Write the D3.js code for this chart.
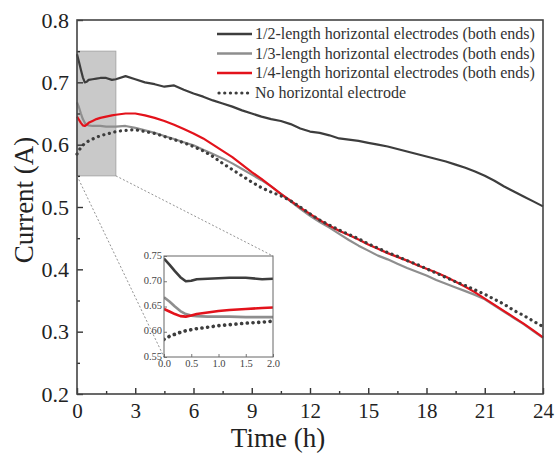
<!DOCTYPE html>
<html>
<head>
<meta charset="utf-8">
<script src="https://cdn.jsdelivr.net/npm/d3@7"></script>
<style>
    body { margin: 0; background: #fff; }
    svg, svg text { font-family: "Liberation Serif", "Times New Roman", Times, serif !important; }
</style>
</head>
<body>
<div id="chart"></div>
<script>
var times = [0, 0.1, 0.2, 0.3, 0.4, 0.5, 0.6, 0.8, 1.0, 1.2, 1.5, 1.8, 2.0,
    2.5, 3, 3.5, 4, 4.5, 5, 5.5, 6, 6.5, 7, 7.5, 8, 8.5, 9, 9.5, 10, 10.5, 11, 11.5,
    12, 12.5, 13, 13.5, 14, 14.5, 15, 15.5, 16, 16.5, 17, 17.5, 18, 18.5, 19, 19.5,
    20, 20.5, 21, 21.5, 22, 22.5, 23, 23.5, 24];

var halfLength = [0.745, 0.733, 0.720, 0.708, 0.700, 0.701, 0.704, 0.705, 0.706, 0.707, 0.707, 0.704, 0.705,
    0.710, 0.705, 0.700, 0.697, 0.693, 0.695, 0.688, 0.682, 0.677, 0.671, 0.666, 0.661, 0.655, 0.650, 0.645,
    0.641, 0.638, 0.633, 0.626, 0.621, 0.619, 0.615, 0.610, 0.608, 0.606, 0.603, 0.600, 0.597, 0.593, 0.589,
    0.585, 0.581, 0.577, 0.573, 0.568, 0.563, 0.557, 0.550, 0.542, 0.533, 0.525, 0.517, 0.509, 0.501];

var thirdLength = [0.668, 0.660, 0.650, 0.641, 0.635, 0.632, 0.631, 0.630, 0.630, 0.630, 0.629, 0.629, 0.629,
    0.630, 0.627, 0.623, 0.619, 0.614, 0.609, 0.604, 0.599, 0.592, 0.585, 0.578, 0.570, 0.561, 0.552, 0.543,
    0.533, 0.521, 0.509, 0.497, 0.486, 0.476, 0.467, 0.457, 0.447, 0.438, 0.430, 0.422, 0.416, 0.409, 0.402,
    0.396, 0.390, 0.383, 0.377, 0.371, 0.365, 0.359, 0.352, 0.342, 0.332, 0.322, 0.312, 0.301, 0.290];

var quarterLength = [0.645, 0.640, 0.635, 0.631, 0.630, 0.632, 0.635, 0.638, 0.641, 0.643, 0.645, 0.647, 0.648,
    0.650, 0.650, 0.647, 0.643, 0.638, 0.632, 0.625, 0.618, 0.610, 0.600, 0.590, 0.580, 0.568, 0.556, 0.545,
    0.533, 0.521, 0.510, 0.499, 0.489, 0.479, 0.470, 0.462, 0.455, 0.448, 0.440, 0.433, 0.426, 0.420, 0.414,
    0.407, 0.401, 0.395, 0.388, 0.380, 0.372, 0.363, 0.353, 0.343, 0.333, 0.323, 0.313, 0.302, 0.291];

var noElectrode = [0.585, 0.591, 0.595, 0.599, 0.602, 0.604, 0.606, 0.609, 0.612, 0.614, 0.617, 0.619, 0.621,
    0.623, 0.624, 0.621, 0.618, 0.613, 0.608, 0.603, 0.597, 0.590, 0.581, 0.570, 0.560, 0.550, 0.540, 0.531,
    0.524, 0.518, 0.510, 0.500, 0.489, 0.479, 0.471, 0.463, 0.456, 0.449, 0.441, 0.434, 0.427, 0.421, 0.414,
    0.408, 0.401, 0.394, 0.387, 0.380, 0.374, 0.367, 0.360, 0.352, 0.344, 0.334, 0.326, 0.317, 0.308];

var seriesNames = ["1/2-length horizontal electrodes (both ends)",
    "1/3-length horizontal electrodes (both ends)",
    "1/4-length horizontal electrodes (both ends)",
    "No horizontal electrode"];

var xTicks = [0, 3, 6, 9, 12, 15, 18, 21, 24];
var yTicks = [0.2, 0.3, 0.4, 0.5, 0.6, 0.7, 0.8];
var insetXTicks = [0, 0.5, 1.0, 1.5, 2.0];
var insetYTicks = [0.55, 0.60, 0.65, 0.70, 0.75];
var zoomBox = {x0: 0, x1: 2, y0: 0.55, y1: 0.75};

function CurrentChart(){
    var self = this;
    self.svgWidth = 555;
    self.svgHeight = 457;
    self.margin = {left: 77, right: 12, top: 20, bottom: 63};
    self.font = "'Liberation Serif', 'Times New Roman', serif";
    self.series = [
        {name: seriesNames[0], values: halfLength, color: "#3d3d3d", dotted: false},
        {name: seriesNames[1], values: thirdLength, color: "#8e8e8e", dotted: false},
        {name: seriesNames[2], values: quarterLength, color: "#e3121b", dotted: false},
        {name: seriesNames[3], values: noElectrode, color: "#3d3d3d", dotted: true}
    ];
    self.init();
}

CurrentChart.prototype.init = function(){
    var self = this;

    //creates svg element within the div
    self.svg = d3.select("#chart").append("svg")
        .attr("width", self.svgWidth)
        .attr("height", self.svgHeight)
        .style("font-family", self.font);

    var w = self.svgWidth - self.margin.left - self.margin.right;
    var h = self.svgHeight - self.margin.top - self.margin.bottom;

    self.xScale = d3.scaleLinear().domain([0, 24]).range([self.margin.left, self.margin.left + w]);
    self.yScale = d3.scaleLinear().domain([0.2, 0.8]).range([self.margin.top + h, self.margin.top]);

    var x = self.xScale, y = self.yScale;

    // grey highlight of the zoomed region
    self.svg.append("rect")
        .attr("x", x(zoomBox.x0))
        .attr("y", y(zoomBox.y1))
        .attr("width", x(zoomBox.x1) - x(zoomBox.x0))
        .attr("height", y(zoomBox.y0) - y(zoomBox.y1))
        .style("fill", "#c9c9c9")
        .style("stroke", "#a8a8a8")
        .style("stroke-width", 1);

    self.drawLines(self.svg, x, y, 2.2, times.length);

    // axes, ticks pointing inward
    var xAxis = d3.axisBottom(x).tickValues(xTicks).tickSize(-6).tickPadding(9).tickFormat(d3.format("d"));
    var xMinor = d3.axisBottom(x).tickValues(d3.range(1.5, 24, 3)).tickSize(-3).tickFormat("");
    var yAxis = d3.axisLeft(y).tickValues(yTicks).tickSize(-6).tickPadding(8).tickFormat(d3.format(".1f"));
    var yMinor = d3.axisLeft(y).tickValues(d3.range(0.25, 0.8, 0.1)).tickSize(-3).tickFormat("");

    var gx = self.svg.append("g").attr("transform", "translate(0," + y(0.2) + ")").call(xAxis);
    self.svg.append("g").attr("transform", "translate(0," + y(0.2) + ")").call(xMinor);
    var gy = self.svg.append("g").attr("transform", "translate(" + x(0) + ",0)").call(yAxis);
    self.svg.append("g").attr("transform", "translate(" + x(0) + ",0)").call(yMinor);

    self.svg.selectAll(".domain").remove();
    self.svg.selectAll("g").attr("font-family", null);
    self.svg.selectAll(".tick line").style("stroke", "#333").style("stroke-width", 1.4);
    gx.selectAll("text").style("font-size", "21px").style("fill", "#222");
    gy.selectAll("text").style("font-size", "22px").style("fill", "#222");

    // frame
    self.svg.append("rect")
        .attr("x", x(0)).attr("y", y(0.8))
        .attr("width", x(24) - x(0)).attr("height", y(0.2) - y(0.8))
        .style("fill", "none").style("stroke", "#444").style("stroke-width", 1.6);

    self.svg.append("text")
        .attr("x", 278).attr("y", 447)
        .attr("text-anchor", "middle")
        .style("font-size", "27px").style("fill", "#222")
        .text("Time (h)");

    self.svg.append("text")
        .attr("transform", "translate(33,200) rotate(-90)")
        .attr("text-anchor", "middle")
        .style("font-size", "27px").style("fill", "#222")
        .text("Current (A)");

    self.drawInset();
    self.drawLegend();
}

CurrentChart.prototype.drawLines = function(g, x, y, width, count){
    var self = this;
    var line = d3.line()
        .x(function(d) { return x(d[0]); })
        .y(function(d) { return y(d[1]); });

    self.series.forEach(function(s){
        var pts = times.slice(0, count).map(function(t, i){ return [t, s.values[i]]; });
        var p = g.append("path")
            .datum(pts)
            .attr("d", line)
            .style("fill", "none")
            .style("stroke", s.color)
            .style("stroke-width", s.dotted ? width + 1 : width)
            .style("stroke-linejoin", "round");
        if (s.dotted) {
            p.style("stroke-dasharray", "0.1 5.6").style("stroke-linecap", "round");
        }
    });
}

CurrentChart.prototype.drawInset = function(){
    var self = this;
    var box = {left: 164, right: 273, top: 256, bottom: 357};

    var ix = d3.scaleLinear().domain([0, 2]).range([box.left, box.right]);
    var iy = d3.scaleLinear().domain([0.55, 0.75]).range([box.bottom, box.top]);

    // dashed connector lines from the grey box to the inset
    self.svg.append("line")
        .attr("x1", self.xScale(zoomBox.x0)).attr("y1", self.yScale(zoomBox.y0))
        .attr("x2", box.left).attr("y2", box.bottom)
        .style("stroke", "#777").style("stroke-width", 0.8).style("stroke-dasharray", "2 2");
    self.svg.append("line")
        .attr("x1", self.xScale(zoomBox.x1)).attr("y1", self.yScale(zoomBox.y0))
        .attr("x2", box.right).attr("y2", box.top)
        .style("stroke", "#777").style("stroke-width", 0.8).style("stroke-dasharray", "2 2");

    self.svg.append("rect")
        .attr("x", box.left).attr("y", box.top)
        .attr("width", box.right - box.left).attr("height", box.bottom - box.top)
        .style("fill", "#fff");

    var g = self.svg.append("g");
    g.append("clipPath").attr("id", "inset-clip")
        .append("rect")
        .attr("x", box.left).attr("y", box.top)
        .attr("width", box.right - box.left).attr("height", box.bottom - box.top);

    var lines = g.append("g").attr("clip-path", "url(#inset-clip)");
    var n = times.indexOf(2.0) + 1;
    self.drawLines(lines, ix, iy, 2.6, n);

    var xAxis = d3.axisBottom(ix).tickValues(insetXTicks).tickSize(-3).tickPadding(3).tickFormat(d3.format(".1f"));
    var yAxis = d3.axisLeft(iy).tickValues(insetYTicks).tickSize(-3).tickPadding(2).tickFormat(d3.format(".2f"));
    var gx = g.append("g").attr("transform", "translate(0," + box.bottom + ")").call(xAxis);
    var gy = g.append("g").attr("transform", "translate(" + box.left + ",0)").call(yAxis);
    g.selectAll(".domain").remove();
    g.selectAll("g").attr("font-family", null);
    g.selectAll(".tick line").style("stroke", "#555").style("stroke-width", 0.8);
    g.selectAll(".tick text").style("font-size", "10.5px").style("fill", "#444");
    gy.selectAll(".tick text").attr("dy", "0.2em");

    g.append("rect")
        .attr("x", box.left).attr("y", box.top)
        .attr("width", box.right - box.left).attr("height", box.bottom - box.top)
        .style("fill", "none").style("stroke", "#666").style("stroke-width", 1);
}

CurrentChart.prototype.drawLegend = function(){
    var self = this;
    var rows = [34, 53.5, 73, 93];
    var lg = self.svg.append("g");

    self.series.forEach(function(s, i){
        var l = lg.append("line")
            .attr("x1", 217).attr("x2", 252)
            .attr("y1", rows[i]).attr("y2", rows[i])
            .style("stroke", s.color)
            .style("stroke-width", s.dotted ? 3.2 : 2.4);
        if (s.dotted) {
            l.attr("x1", 219).style("stroke-dasharray", "0.1 5.6").style("stroke-linecap", "round");
        }
        lg.append("text")
            .attr("x", 255).attr("y", rows[i] + 5)
            .style("font-size", "16px").style("fill", "#333")
            .text(s.name);
    });
}

var chart = new CurrentChart();
</script>
</body>
</html>
